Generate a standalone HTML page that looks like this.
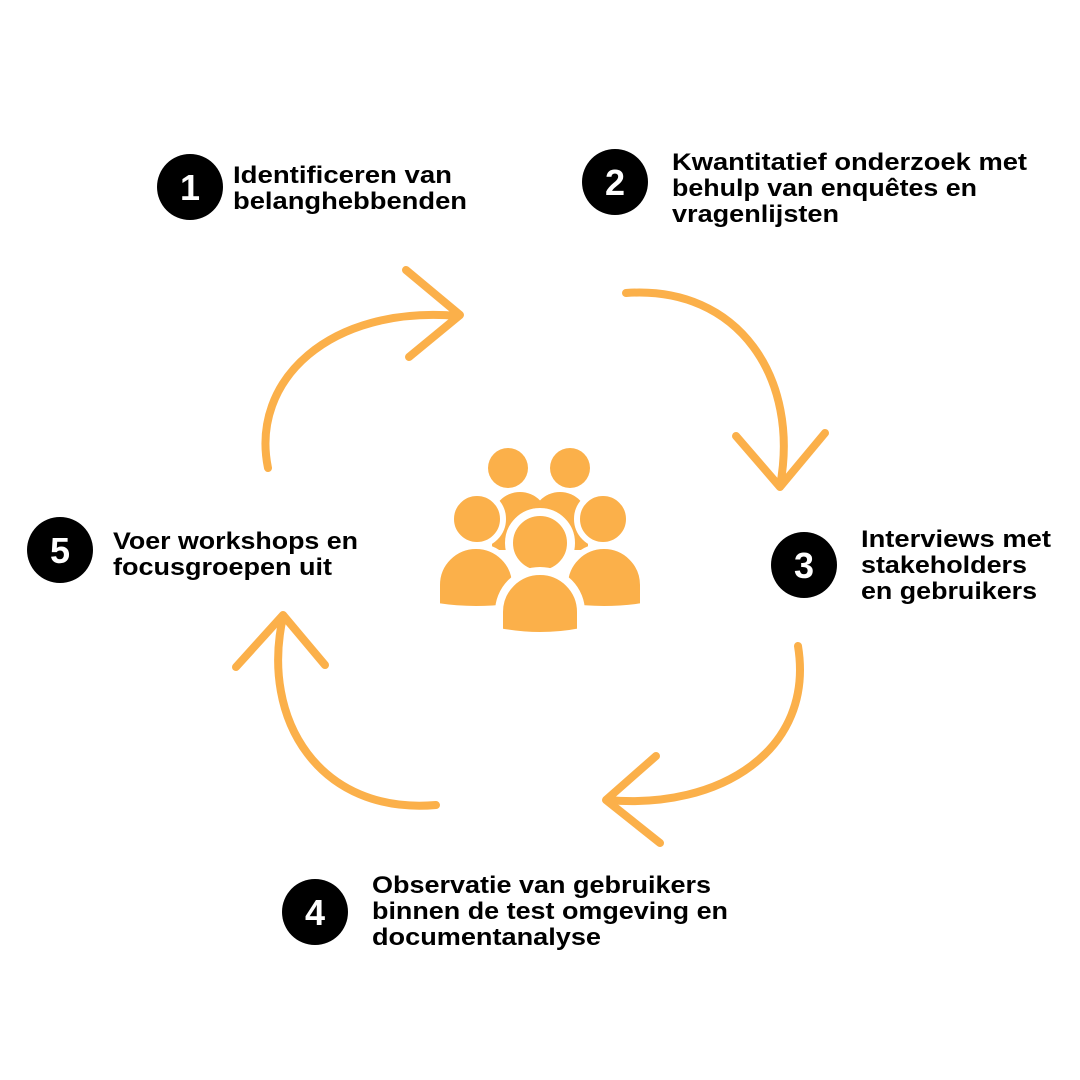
<!DOCTYPE html>
<html><head><meta charset="utf-8"><style>html,body{margin:0;padding:0;background:#fff}svg{display:block}</style></head>
<body>
<svg width="1080" height="1080" viewBox="0 0 1080 1080" xmlns="http://www.w3.org/2000/svg">
<rect width="1080" height="1080" fill="#fff"/>
<g fill="none" stroke="#FBB04A" stroke-width="8" stroke-linecap="round" stroke-linejoin="round">
<path d="M268,468 C250,380 330,305 458,316"/>
<path d="M406,270 L460,315 L409,357"/>
<path d="M626,293 C740,285 800,380 780,486"/>
<path d="M736,436 L780,487 L825,433"/>
<path d="M798,646 C815,750 720,810 608,800"/>
<path d="M656,756 L606,800 L660,843"/>
<path d="M436,805 C320,815 260,720 283,617"/>
<path d="M236,667 L283,615 L325,665"/>
</g>
<g fill="#FBB04A">
<circle cx="508" cy="468" r="20"/>
<circle cx="570" cy="468" r="20"/>
<path d="M492,550 L492,520 A28,28 0 0 1 548,520 L548,550 Z"/>
<path d="M532,550 L532,520 A28,28 0 0 1 588,520 L588,550 Z"/>
<g stroke="#fff" stroke-width="6">
<circle cx="477" cy="519" r="26"/>
<circle cx="603" cy="519" r="26"/>
<path d="M437,606 L437,585 A39,39 0 0 1 515,585 L515,606 Q476,612 437,606 Z"/>
<path d="M565,606 L565,585 A39,39 0 0 1 643,585 L643,606 Q604,612 565,606 Z"/>
<circle cx="540" cy="543" r="31" stroke-width="8"/>
<path d="M499,632 L499,612 A41,41 0 0 1 581,612 L581,632 Q540,640 499,632 Z" stroke-width="8"/>
</g>
</g>
<g fill="#000">
<circle cx="190" cy="187" r="33"/>
<circle cx="615" cy="182" r="33"/>
<circle cx="804" cy="565" r="33"/>
<circle cx="315" cy="912" r="33"/>
<circle cx="60" cy="550" r="33"/>
</g>
<g fill="#fff" font-family="Liberation Sans, sans-serif" font-weight="bold" font-size="36" text-anchor="middle">
<text x="190" y="200">1</text>
<text x="615" y="195">2</text>
<text x="804" y="578">3</text>
<text x="315" y="925">4</text>
<text x="60" y="563">5</text>
</g>
<g fill="#000" font-family="Liberation Sans, sans-serif" font-weight="bold" font-size="24" lengthAdjust="spacingAndGlyphs">
<text x="233" y="183" textLength="219" lengthAdjust="spacingAndGlyphs">Identificeren van</text>
<text x="233" y="209" textLength="234" lengthAdjust="spacingAndGlyphs">belanghebbenden</text>
<text x="672" y="170" textLength="355" lengthAdjust="spacingAndGlyphs">Kwantitatief onderzoek met</text>
<text x="672" y="196" textLength="305" lengthAdjust="spacingAndGlyphs">behulp van enquêtes en</text>
<text x="672" y="222" textLength="167" lengthAdjust="spacingAndGlyphs">vragenlijsten</text>
<text x="861" y="547" textLength="190" lengthAdjust="spacingAndGlyphs">Interviews met</text>
<text x="861" y="573" textLength="166" lengthAdjust="spacingAndGlyphs">stakeholders</text>
<text x="861" y="599" textLength="176" lengthAdjust="spacingAndGlyphs">en gebruikers</text>
<text x="113" y="549" textLength="245" lengthAdjust="spacingAndGlyphs">Voer workshops en</text>
<text x="113" y="575" textLength="219" lengthAdjust="spacingAndGlyphs">focusgroepen uit</text>
<text x="372" y="893" textLength="339" lengthAdjust="spacingAndGlyphs">Observatie van gebruikers</text>
<text x="372" y="919" textLength="356" lengthAdjust="spacingAndGlyphs">binnen de test omgeving en</text>
<text x="372" y="945" textLength="229" lengthAdjust="spacingAndGlyphs">documentanalyse</text>
</g>
</svg>
</body></html>
